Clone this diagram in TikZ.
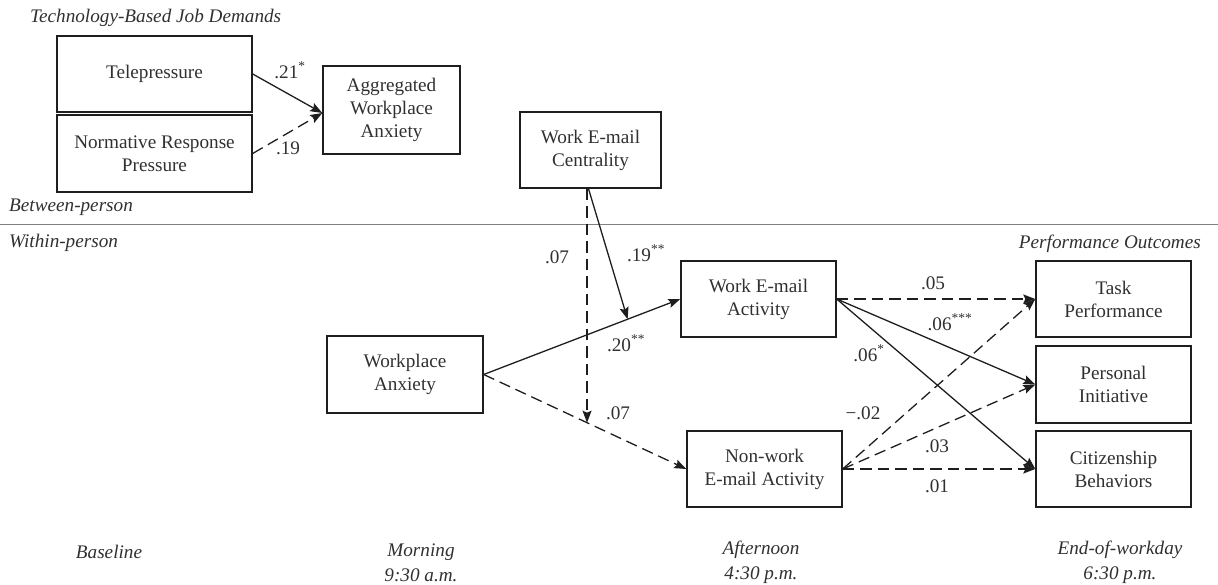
\documentclass[tikz,border=0pt]{standalone}
\usepackage{fontspec}
\setmainfont{Liberation Serif}
\usetikzlibrary{arrows.meta,calc}
\definecolor{txt}{HTML}{303030}
\definecolor{ln}{HTML}{1E1E1E}
\newcommand\bfs{\fontsize{19.2}{23}\selectfont}
\newcommand\tfs{\fontsize{19.2}{25}\selectfont}
\tikzset{
  box/.style={draw=ln, line width=1.4pt, align=center, font=\bfs, text=txt, inner sep=1pt, minimum height=76pt},
  lab/.style={font=\bfs, text=txt, inner sep=0pt},
  hd/.style={font=\bfs\itshape, text=txt, inner sep=0pt},
  tm/.style={font=\tfs\itshape, text=txt, inner sep=0pt, align=center},
  arr/.style={draw=ln, line width=1.3pt, -{Stealth[length=12pt,width=9pt,inset=2pt]}},
  dsh/.style={dash pattern=on 11.5pt off 6pt}
}
\begin{document}
\begin{tikzpicture}[x=1pt,y=-1pt]
\useasboundingbox (0,0) rectangle (1218,585);
% headings
\node[hd, anchor=west] (h1) at (30,18) {Technology-Based Job Demands};
\node[hd, anchor=west] (h2) at (9,207) {Between-person};
\node[hd, anchor=west] (h3) at (9,243) {Within-person};
\node[hd, anchor=east] (h4) at (1201,244) {Performance Outcomes};
\coordinate (l1) at (0,225);
\coordinate (l2) at (1218,225);
\draw[line width=1pt, draw=gray] (l1) -- (l2);
% boxes
\node[box, minimum width=195pt] (tp) at (154.5,74) {Telepressure};
\node[box, minimum width=195pt, minimum height=77pt] (nrp) at (154.5,153.5) {Normative Response\\Pressure};
\node[box, minimum width=137pt, minimum height=88pt] (awa) at (391.5,110) {Aggregated\\Workplace\\Anxiety};
\node[box, minimum width=141pt] (cent) at (590.5,150) {Work E-mail\\Centrality};
\node[box, minimum width=156pt, minimum height=77pt] (wa) at (405,374.5) {Workplace\\Anxiety};
\node[box, minimum width=155pt] (wea) at (758.5,299) {Work E-mail\\Activity};
\node[box, minimum width=155pt] (nwa) at (764.5,469) {Non-work\\E-mail Activity};
\node[box, minimum width=155pt] (task) at (1113.5,299) {Task\\Performance};
\node[box, minimum width=155pt, minimum height=77pt] (pi) at (1113.5,384.5) {Personal\\Initiative};
\node[box, minimum width=155pt] (cb) at (1113.5,469) {Citizenship\\Behaviors};
% between-person arrows
\coordinate (awin) at ($(awa.west)+(0,3)$);
\draw[arr] (tp.east) -- (awin);
\draw[arr, dsh] (nrp.east) -- (awin);
\node[lab] (l21) at (290,70) {.21\textsuperscript{*}};
\node[lab] (l19) at (288,148) {.19};
% within-person
\draw[arr] (wa.east) -- (wea.west);
\draw[arr, dsh] (wa.east) -- (nwa.west);
\coordinate (m1) at ($(wa.east)!0.732!(wea.west)$);
\coordinate (m2) at ($(wa.east)!0.51!(nwa.west)$);
\draw[arr] ($(cent.south)+(-2,0)$) -- (m1);
\draw[arr, dsh] (cent.south -| m2) -- (m2);
\node[lab] (a07) at (557,257) {.07};
\node[lab] (a19) at (646,253) {.19\textsuperscript{**}};
\node[lab] (a20) at (626,343) {.20\textsuperscript{**}};
\node[lab] (b07) at (618,413) {.07};
% outcomes
\draw[arr, dsh] (wea.east) -- (task.west);
\draw[arr] (wea.east) -- (pi.west);
\draw[arr] (wea.east) -- (cb.west);
\draw[arr, dsh] (nwa.east) -- (task.west);
\draw[arr, dsh] (nwa.east) -- (pi.west);
\draw[arr, dsh] (nwa.east) -- (cb.west);
\node[lab] (o05) at (933,283) {.05};
\node[lab] (o06a) at (950,322) {.06\textsuperscript{***}};
\node[lab] (o06b) at (869,353) {.06\textsuperscript{*}};
\node[lab] (o02) at (863,413) {−.02};
\node[lab] (o03) at (937,446) {.03};
\node[lab] (o01) at (937,486) {.01};
% time labels
\node[tm] (t1) at (109,552) {Baseline};
\node[tm] (t2) at (421,562.5) {Morning\\9:30 a.m.};
\node[tm] (t3) at (761,562.5) {Afternoon\\4:30 p.m.};
\node[tm] (t4) at (1120,562.5) {End-of-workday\\6:30 p.m.};
\end{tikzpicture}
\end{document}
